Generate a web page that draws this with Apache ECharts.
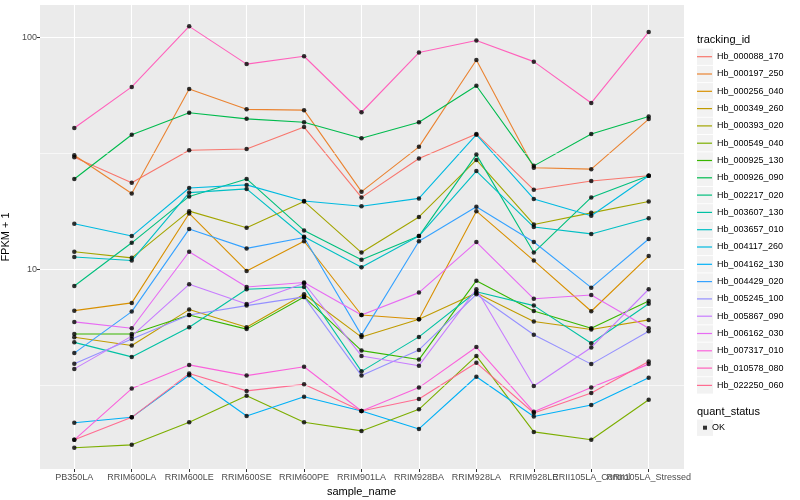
<!DOCTYPE html>
<html>
<head>
<meta charset="utf-8">
<script src="https://cdn.jsdelivr.net/npm/echarts@6/dist/echarts.min.js"></script>
<style>html,body{margin:0;padding:0;background:#fff}#c{width:800px;height:500px}</style>
</head>
<body>
<div id="c"></div>
<script>
var categories = ['PB350LA','RRIM600LA','RRIM600LE','RRIM600SE','RRIM600PE','RRIM901LA','RRIM928BA','RRIM928LA','RRIM928LE','RRII105LA_Control','RRII105LA_Stressed'];

var trackingIds = ['Hb_000088_170','Hb_000197_250','Hb_000256_040','Hb_000349_260','Hb_000393_020','Hb_000549_040','Hb_000925_130','Hb_000926_090','Hb_002217_020','Hb_003607_130','Hb_003657_010','Hb_004117_260','Hb_004162_130','Hb_004429_020','Hb_005245_100','Hb_005867_090','Hb_006162_030','Hb_007317_010','Hb_010578_080','Hb_022250_060'];

var colors = ['#F8766D','#EA8331','#D89000','#C09B00','#A3A500','#7CAE00','#39B600','#00BB4E','#00BF7D','#00C1A3','#00BFC4','#00BAE0','#00B0F6','#35A2FF','#9590FF','#C77CFF','#E76BF3','#FA62DB','#FF62BC','#FF6C91'];

var Hb_000088_170 = [30.4, 23.6, 32.6, 33.0, 41.0, 20.4, 30.0, 38.3, 22.0, 24.0, 25.3];
var Hb_000197_250 = [31.0, 21.2, 59.8, 48.9, 48.5, 21.6, 33.7, 79.8, 27.4, 27.0, 44.4];
var Hb_000256_040 = [6.63, 7.16, 17.4, 9.83, 13.2, 6.35, 6.09, 17.8, 10.9, 6.59, 11.4];
var Hb_000349_260 = [5.09, 4.69, 6.70, 5.62, 7.8, 5.1, 6.09, 7.9, 5.95, 5.5, 6.05];
var Hb_000393_020 = [11.9, 11.2, 17.8, 15.1, 19.6, 11.8, 16.8, 29.6, 15.6, 17.5, 19.6];
var Hb_000549_040 = [1.70, 1.75, 2.19, 2.85, 2.19, 2.01, 2.49, 4.23, 1.99, 1.84, 2.74];
var Hb_000925_130 = [5.26, 5.26, 6.35, 5.52, 7.6, 4.46, 4.08, 8.93, 6.61, 5.57, 7.3];
var Hb_000926_090 = [24.5, 38.0, 47.3, 44.5, 43.0, 36.7, 43.0, 61.8, 27.9, 38.3, 45.5];
var Hb_002217_020 = [8.47, 13.0, 20.6, 24.5, 14.7, 11.0, 13.9, 31.2, 11.8, 20.4, 25.3];
var Hb_003607_130 = [4.84, 4.19, 5.62, 8.2, 8.39, 3.63, 5.11, 8.0, 6.97, 4.8, 7.1];
var Hb_003657_010 = [11.3, 10.9, 21.4, 22.2, 13.8, 10.2, 13.9, 26.5, 15.2, 14.2, 16.6];
var Hb_004117_260 = [15.7, 13.9, 22.4, 23.1, 19.7, 18.7, 20.2, 38.0, 20.1, 17.0, 25.3];
var Hb_004162_130 = [2.18, 2.30, 3.49, 2.33, 2.82, 2.45, 2.05, 3.44, 2.32, 2.60, 3.41];
var Hb_004429_020 = [4.35, 6.57, 14.9, 12.3, 13.7, 5.2, 13.2, 18.6, 13.1, 8.33, 13.5];
var Hb_005245_100 = [3.91, 5.0, 6.35, 6.97, 7.6, 3.48, 4.49, 7.8, 5.22, 3.90, 5.4];
var Hb_005867_090 = [3.72, 5.15, 8.61, 7.08, 8.7, 4.23, 3.84, 8.2, 3.14, 4.6, 8.2];
var Hb_006162_030 = [5.93, 5.57, 11.9, 8.39, 8.77, 6.35, 7.93, 13.1, 7.46, 7.75, 5.57];
var Hb_007317_010 = [1.84, 3.06, 3.87, 3.48, 3.80, 2.45, 3.09, 4.62, 2.43, 3.09, 3.9];
var Hb_010578_080 = [40.6, 61.1, 111.4, 76.6, 82.8, 47.5, 85.9, 96.8, 78.5, 52.1, 105.4];
var Hb_022250_060 = [1.84, 2.30, 3.55, 2.99, 3.19, 2.45, 2.76, 3.95, 2.40, 2.93, 4.0];

var seriesValues = [Hb_000088_170, Hb_000197_250, Hb_000256_040, Hb_000349_260, Hb_000393_020, Hb_000549_040, Hb_000925_130, Hb_000926_090, Hb_002217_020, Hb_003607_130, Hb_003657_010, Hb_004117_260, Hb_004162_130, Hb_004429_020, Hb_005245_100, Hb_005867_090, Hb_006162_030, Hb_007317_010, Hb_010578_080, Hb_022250_060];

var yTicks = [10, 100];
var yMinorTicks = [3.1623, 31.623];
var yMin = Math.pow(10, 0.139), yMax = Math.pow(10, 2.139);

var FONT = 'Liberation Sans, Arial, sans-serif';
var LINE_ICON = 'path://M0,0h15v1.2h-15z';

var series = [];
series.push({
  type: 'line', name: '_grid', xAxisIndex: 0, yAxisIndex: 0, data: [], silent: true,
  markLine: {
    silent: true, symbol: 'none', label: {show: false},
    lineStyle: {color: '#ffffff', width: 0.6, type: 'solid'},
    data: yMinorTicks.map(function (v) { return {yAxis: v}; })
  }
});
trackingIds.forEach(function (id, k) {
  series.push({
    type: 'line', name: id, xAxisIndex: 1, yAxisIndex: 1,
    data: seriesValues[k], symbol: 'none', showSymbol: false,
    lineStyle: {color: colors[k], width: 1.1},
    itemStyle: {color: colors[k]},
    animation: false
  });
});
var okPts = [];
seriesValues.forEach(function (arr) { arr.forEach(function (v, i) { okPts.push([i, v]); }); });
series.push({
  type: 'scatter', name: 'OK', xAxisIndex: 1, yAxisIndex: 1, data: okPts,
  symbol: 'circle', symbolSize: 4.5, itemStyle: {color: '#000000'}, z: 5, animation: false
});

// legend key background boxes (ggplot style)
var LEG_CENTER0 = 56.7, LEG_PITCH = 17.3, TEXT_H = 9;
var keyBoxes = [];
trackingIds.forEach(function (id, k) {
  keyBoxes.push({type: 'rect', shape: {x: 697, y: LEG_CENTER0 - 8.2 + k * LEG_PITCH, width: 16, height: 16.4},
    style: {fill: '#F2F2F2'}, silent: true, z: 0});
});
keyBoxes.push({type: 'rect', shape: {x: 697, y: 419.5, width: 16, height: 16.4}, style: {fill: '#F2F2F2'}, silent: true, z: 0});

var chart = echarts.init(document.getElementById('c'), null, {renderer: 'canvas'});
chart.setOption({
  animation: false,
  textStyle: {fontFamily: FONT},
  graphic: keyBoxes,
  title: [
    {text: 'tracking_id', left: 697, top: 34, padding: 0, textStyle: {fontSize: 11, fontWeight: 'normal', color: '#000', fontFamily: FONT}},
    {text: 'quant_status', left: 697, top: 406, padding: 0, textStyle: {fontSize: 11, fontWeight: 'normal', color: '#000', fontFamily: FONT}}
  ],
  legend: [
    {
      orient: 'vertical', left: 697, top: LEG_CENTER0 - TEXT_H / 2, padding: 0,
      itemWidth: 15, itemHeight: 9, itemGap: LEG_PITCH - TEXT_H,
      symbolKeepAspect: true,
      data: trackingIds.map(function (id, k) { return {name: id, icon: LINE_ICON, itemStyle: {color: colors[k]}}; }),
      textStyle: {fontSize: 9, color: '#000', fontFamily: FONT},
      selectedMode: false
    },
    {
      orient: 'vertical', left: 703, top: 427.7 - TEXT_H / 2, padding: 0,
      itemWidth: 4, itemHeight: 4,
      data: [{name: 'OK', icon: 'rect'}],
      textStyle: {fontSize: 9, color: '#000', fontFamily: FONT},
      selectedMode: false
    }
  ],
  grid: [
    {left: 40, top: 5, width: 644, height: 464, show: true, backgroundColor: '#EBEBEB', borderWidth: 0, containLabel: false, outerBoundsMode: 'none'},
    {left: 74.3, top: 5, width: 574.4, height: 464, show: false, containLabel: false, outerBoundsMode: 'none'}
  ],
  xAxis: [
    {type: 'value', gridIndex: 0, min: 0, max: 1, show: false},
    {
      type: 'category', gridIndex: 1, data: categories, boundaryGap: false,
      axisLine: {show: false},
      axisTick: {show: true, length: 3, lineStyle: {color: '#333333', width: 1}},
      axisLabel: {interval: 0, fontSize: 9, color: '#4D4D4D', margin: 4, fontFamily: FONT},
      splitLine: {show: true, lineStyle: {color: '#ffffff', width: 1.1}},
      name: 'sample_name', nameLocation: 'middle', nameGap: 13,
      nameTextStyle: {fontSize: 11, color: '#000', fontFamily: FONT}
    }
  ],
  yAxis: [
    {
      type: 'log', logBase: 10, gridIndex: 0, min: yMin, max: yMax,
      axisLine: {show: false},
      axisTick: {show: true, length: 3, lineStyle: {color: '#333333', width: 1}},
      axisLabel: {fontSize: 9, color: '#4D4D4D', margin: 3, showMinLabel: false, showMaxLabel: false, fontFamily: FONT,
        formatter: function (v) { return yTicks.indexOf(Math.round(v)) >= 0 ? String(Math.round(v)) : ''; }},
      splitLine: {show: true, showMinLine: false, showMaxLine: false, lineStyle: {color: '#ffffff', width: 1.1}},
      name: 'FPKM + 1', nameLocation: 'middle', nameGap: 22,
      nameTextStyle: {fontSize: 11, color: '#000', fontFamily: FONT}
    },
    {type: 'log', logBase: 10, gridIndex: 1, min: yMin, max: yMax, show: false, splitLine: {show: false}}
  ],
  series: series
});
</script>
</body>
</html>
